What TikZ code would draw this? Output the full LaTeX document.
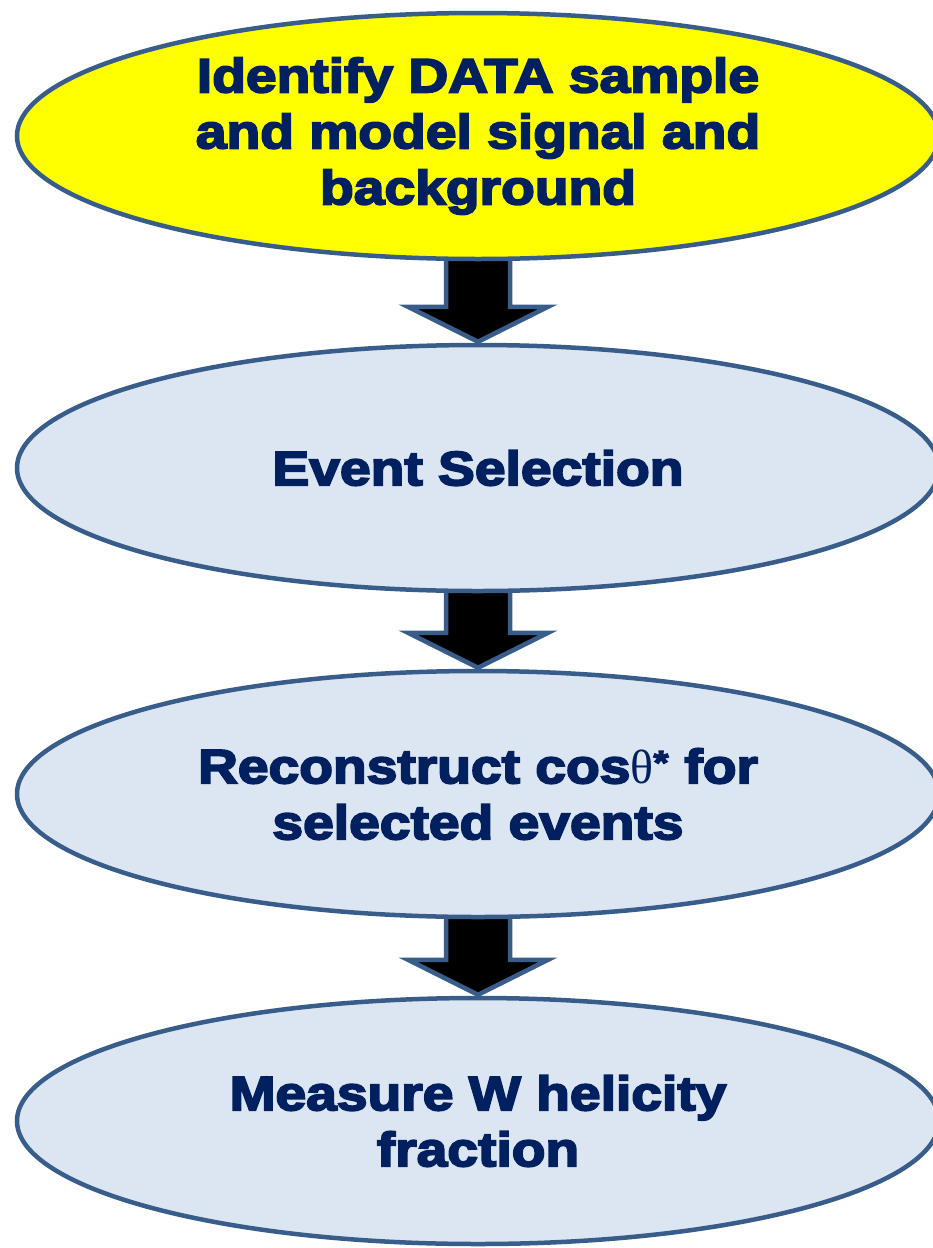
\documentclass[tikz,border=0pt]{standalone}
\usepackage{fontspec}
\newfontfamily\heavyfont{Liberation Sans}[BoldFont={Liberation Sans Bold},BoldFeatures={FakeBold=4,FakeStretch=1.15}]
\newfontfamily\greekfont{Liberation Serif}
\usetikzlibrary{positioning,shapes.geometric,calc,backgrounds}
\definecolor{stepyellow}{RGB}{255,255,0}
\definecolor{steplight}{RGB}{220,230,242}
\definecolor{stepborder}{RGB}{56,93,138}
\definecolor{steptext}{RGB}{0,32,96}
% block arrow from one step to the next
\newcommand{\flowarrow}[2]{%
	\draw[blockarrow] ($(#1.south)+(-32,-6)$) -- ($(#2.north)+(-32,-36)$) -- ($(#2.north)+(-70,-36)$)
	-- ($(#2.north)+(0,-1)$) -- ($(#2.north)+(70,-36)$) -- ($(#2.north)+(32,-36)$) -- ($(#1.south)+(32,-6)$) -- cycle;}
\begin{document}
\begin{tikzpicture}[x=1pt,y=-1pt, line join=miter,
	stepnode/.style={ellipse, draw=stepborder, line width=4.5pt, fill=steplight, minimum width=922pt, minimum height=246pt, inner sep=0pt,
		align=center, text=steptext, font=\heavyfont\bfseries\fontsize{48}{56}\selectfont},
	blockarrow/.style={draw=stepborder, line width=4.5pt, fill=black}]
	\useasboundingbox (0,0) rectangle (932,1248);
	\node[stepnode, fill=stepyellow] (data) at (478,136) {Identify DATA sample\\and model signal and\\background};
	\node[stepnode, below=81.5pt of data] (sel) {Event Selection};
	\node[stepnode, below=75.5pt of sel] (reco) {Reconstruct cos{\mdseries\greekfont θ}\textsuperscript{*} for\\selected events};
	\node[stepnode, below=76.5pt of reco] (meas) {Measure W helicity\\fraction};
	\begin{scope}[on background layer]
	\flowarrow{data}{sel}
	\flowarrow{sel}{reco}
	\flowarrow{reco}{meas}
	\end{scope}
\end{tikzpicture}
\end{document}
